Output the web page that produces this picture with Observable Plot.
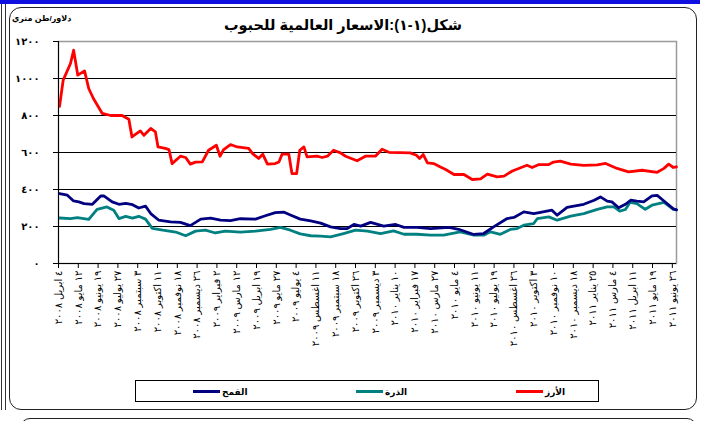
<!DOCTYPE html>
<html><head><meta charset="utf-8">
<script src="https://cdn.jsdelivr.net/npm/d3@7"></script>
<script src="https://cdn.jsdelivr.net/npm/@observablehq/plot@0.6"></script>
<style>
body{margin:0;background:#fff;font-family:Arial,"Liberation Sans","DejaVu Sans",sans-serif;}
#wrap{position:relative;width:707px;height:421px;overflow:hidden;background:#fff;}
.abs{position:absolute;}
#blue{left:0;top:0;width:700px;height:4px;background:#1010e0;}
#vl1{left:1px;top:4px;width:1px;height:406px;background:#333;}
#vl2{left:5px;top:4px;width:1px;height:406px;background:#333;}
#frame{left:9px;top:7px;width:686px;height:401px;border:1.5px solid #222;border-radius:12px;}
#frame2{left:20px;top:418px;width:675px;height:30px;border:1.5px solid #222;border-radius:10px;}
#title{left:200px;width:286px;top:17px;text-align:center;font-weight:bold;font-size:14.5px;white-space:nowrap;}
#unit{left:12px;width:auto;top:14px;font-weight:bold;font-size:8px;white-space:nowrap;}
#chart{left:0;top:0;}
#legend{left:135px;top:380px;width:464px;height:22px;border:1px solid #000;box-sizing:border-box;}
.lg{position:absolute;top:0;height:21px;display:flex;align-items:center;font-weight:bold;font-size:9px;white-space:nowrap;}
.sw{display:inline-block;width:27px;height:3px;margin-right:2px;}
</style></head><body>
<div id="wrap">
  <div id="blue" class="abs"></div>
  <div id="vl1" class="abs"></div>
  <div id="vl2" class="abs"></div>
  <div id="frame" class="abs"></div>
  <div id="frame2" class="abs"></div>
  <div id="chart" class="abs"></div>
  <div id="title" class="abs" dir="rtl">شكل(١-١):الاسعار العالمية للحبوب</div>
  <div id="unit" class="abs"><span dir="rtl">دلاور/طن متري</span></div>
  <div id="legend" class="abs"></div>
</div>
<script>
// ---- data (day offsets from 4 April 2008, values in $/metric ton) ----
const seriesNames = ["الأرز", "الذرة", "القمح"];
const seriesColors = ["#ff0000", "#008080", "#000080"];

const riceDays = [2,9,23,29,37,50,58,67,84,100,122,135,141,157,164,177,186,191,205,212,218,234,244,253,263,276,288,303,310,317,330,343,365,372,384,392,401,416,423,429,442,448,457,463,471,477,496,506,516,528,541,551,573,589,608,621,634,675,687,693,700,708,720,733,743,759,778,794,810,823,842,855,871,899,909,922,941,950,963,983,1008,1034,1050,1072,1094,1120,1149,1162,1171,1180,1186];
const riceValues = [850,991,1081,1153,1018,1041,946,892,811,800,800,780,684,717,693,730,711,630,622,616,540,580,573,537,548,549,612,639,580,616,643,630,622,595,568,591,537,540,549,591,591,486,486,612,630,576,580,573,580,612,598,580,555,580,580,618,601,598,585,568,589,544,540,522,508,481,481,454,457,483,468,472,500,531,519,535,535,548,553,537,530,533,541,514,495,504,493,514,537,519,522];

const maizeDays = [2,23,36,58,74,93,106,116,129,142,154,167,180,200,225,244,263,282,301,320,349,378,407,426,445,464,484,503,522,547,570,593,618,643,663,688,714,739,771,797,816,829,848,867,880,893,912,919,941,957,983,1008,1034,1053,1066,1077,1088,1097,1110,1126,1139,1162,1180,1186];
const maizeValues = [246,243,248,238,293,306,288,243,255,245,255,240,190,180,170,150,175,180,165,175,170,175,185,195,180,160,150,148,144,162,180,175,162,176,158,158,153,153,171,153,153,171,158,184,189,207,216,243,252,234,256,270,293,306,306,283,292,331,324,293,315,330,293,290];

const wheatDays = [2,17,29,39,49,65,81,87,103,116,129,142,154,167,177,192,215,234,253,273,292,311,330,349,378,397,416,432,445,464,484,503,522,541,554,567,580,599,624,647,663,688,714,749,768,797,816,835,861,874,893,912,925,947,957,976,989,1008,1028,1040,1053,1062,1075,1088,1098,1110,1123,1139,1149,1162,1180,1186];
const wheatValues = [378,369,338,333,324,320,365,365,333,320,325,318,300,310,270,235,225,222,205,240,245,235,232,242,240,258,275,278,262,240,230,218,198,189,189,211,202,222,202,211,195,195,189,195,185,157,162,198,243,249,279,270,277,288,261,303,310,320,342,360,337,333,301,320,342,337,333,365,368,338,295,290];

// x-axis tick labels (one every 38 days)
const tickDays = d3.range(0, 32).map(i => i * 38);
const tickLabels = ["٤ ابريل ٢٠٠٨","١٢ مايو ٢٠٠٨","١٩ يونيو ٢٠٠٨","٢٧ يوليو ٢٠٠٨","٣ سبتمبر ٢٠٠٨","١١ اكتوبر ٢٠٠٨","١٨ نوفمبر ٢٠٠٨","٢٦ ديسمبر ٢٠٠٨",
"٢ فبراير ٢٠٠٩","١٢ مارس ٢٠٠٩","١٩ ابريل ٢٠٠٩","٢٧ مايو ٢٠٠٩","٤ يوليو ٢٠٠٩","١١ اغسطس ٢٠٠٩","١٨ سبتمبر ٢٠٠٩","٢٦ اكتوبر ٢٠٠٩","٣ ديسمبر ٢٠٠٩",
"١٠ يناير ٢٠١٠","١٧ فبراير ٢٠١٠","٢٧ مارس ٢٠١٠","٤ مايو ٢٠١٠","١١ يونيو ٢٠١٠","١٩ يوليو ٢٠١٠","٢٦ اغسطس ٢٠١٠","٣ اكتوبر ٢٠١٠","١٠ نوفمبر ٢٠١٠","١٨ ديسمبر ٢٠١٠",
"٢٥ يناير ٢٠١١","٤ مارس ٢٠١١","١١ ابريل ٢٠١١","١٩ مايو ٢٠١١","٢٦ يونيو ٢٠١١"];
const yTicks = [0,200,400,600,800,1000,1200];
const yTickLabels = ["٠","٢٠٠","٤٠٠","٦٠٠","٨٠٠","١٠٠٠","١٢٠٠"];
const xEndDay = 1186;

// ---- build ----
const start = Date.UTC(2008, 3, 4);
const day = d => new Date(start + d * 864e5);
const mk = (days, vals, name) => days.map((d, i) => ({date: day(d), value: vals[i], name}));
const rice = mk(riceDays, riceValues, seriesNames[0]);
const maize = mk(maizeDays, maizeValues, seriesNames[1]);
const wheat = mk(wheatDays, wheatValues, seriesNames[2]);
const tickDates = tickDays.map(day);
const labelMap = new Map(tickDates.map((d, i) => [d.getTime(), tickLabels[i]]));
const yLabelMap = new Map(yTicks.map((v, i) => [v, yTickLabels[i]]));
const font = 'Arial,"Liberation Sans","DejaVu Sans",sans-serif';

const chart = Plot.plot({
  width: 707, height: 380,
  marginTop: 41, marginLeft: 58, marginRight: 31, marginBottom: 117,
  style: {fontFamily: font, fontSize: "10px", background: "transparent", color: "#000"},
  x: {type: "utc", domain: [day(0), day(xEndDay)], label: null},
  y: {domain: [0, 1200], label: null},
  marks: [
    Plot.frame({stroke: "#9a9a9a", strokeWidth: 1.5}),
    Plot.ruleY(yTicks.filter(v => v > 0 && v < 1200), {stroke: "#000", strokeWidth: 1}),
    Plot.line(rice, {x: "date", y: "value", stroke: seriesColors[0], strokeWidth: 2.8}),
    Plot.line(maize, {x: "date", y: "value", stroke: seriesColors[1], strokeWidth: 2.8}),
    Plot.line(wheat, {x: "date", y: "value", stroke: seriesColors[2], strokeWidth: 2.8}),
    Plot.ruleX([day(0)], {stroke: "#000", strokeWidth: 1}),
    Plot.ruleY([0], {stroke: "#000", strokeWidth: 1}),
    Plot.axisY({ticks: yTicks, tickFormat: v => yLabelMap.get(v), tickSize: 5, tickPadding: 14, fontSize: 10, fontWeight: "bold", label: null}),
    Plot.axisX({ticks: tickDates, tickFormat: d => labelMap.get(d.getTime()), tickRotate: -90, tickSize: 5, tickPadding: 2, fontSize: 10, label: null})
  ]
});
document.getElementById("chart").appendChild(chart);

// legend
const legend = document.getElementById("legend");
const legPos = [380, 220, 57]; // left offsets inside box: rice, maize, wheat
seriesNames.forEach((n, i) => {
  const it = document.createElement("div");
  it.className = "lg";
  it.style.left = legPos[i] + "px";
  it.innerHTML = `<span class="sw" style="background:${seriesColors[i]}"></span><span>${n}</span>`;
  legend.appendChild(it);
});
</script>
</body></html>
